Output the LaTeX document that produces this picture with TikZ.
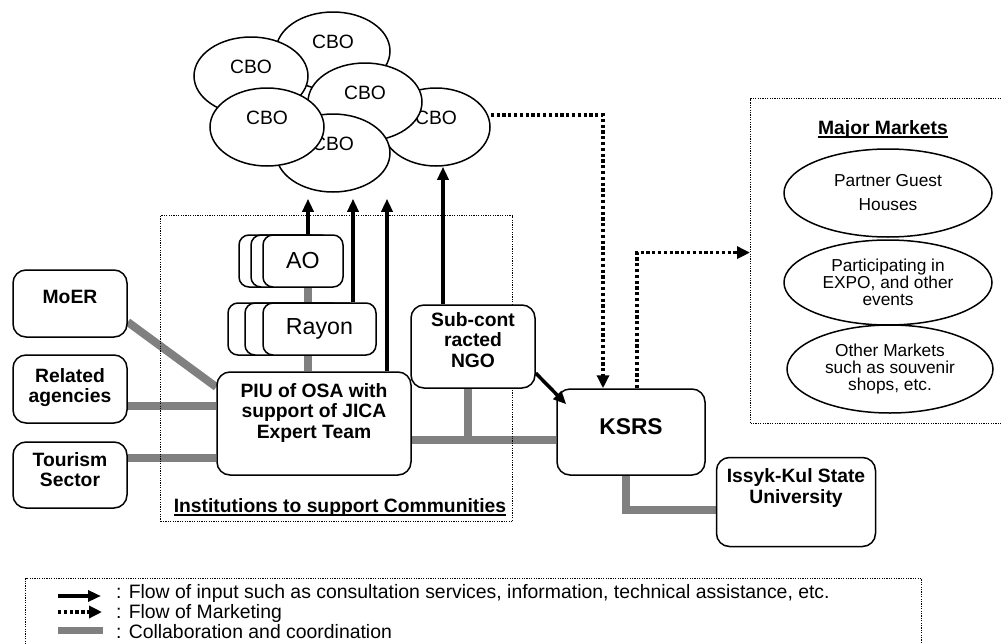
\documentclass[tikz,border=0pt]{standalone}
\usepackage{fontspec}
\setmainfont{Liberation Sans}
\usetikzlibrary{arrows.meta,shapes.geometric}

\definecolor{mygray}{RGB}{128,128,128}
\pgfdeclarelayer{background}
\pgfsetlayers{background,main}

\newcommand\ulhead[1]{\setbox0=\hbox{#1}\rlap{\rule[-4pt]{\wd0}{2pt}}\box0}

\begin{document}
\begin{tikzpicture}[x=1pt,y=-1pt,
  box/.style   ={draw,line width=1.5pt,rounded corners=13pt,fill=white,inner sep=0pt},
  txt/.style   ={font=\bfseries\fontsize{19.3}{20.5}\selectfont,align=center,inner sep=0pt},
  cbo/.style   ={draw,ellipse,line width=1.5pt,fill=white,minimum width=114pt,minimum height=78pt,
                 inner sep=0pt,text depth=18pt,font=\fontsize{19.3}{21}\selectfont},
  stack/.style ={draw,line width=1.5pt,rounded corners=10pt,fill=white,minimum height=52pt,
                 inner sep=0pt,font=\fontsize{23.2}{25}\selectfont},
  market/.style={draw,ellipse,line width=1.5pt,inner sep=0pt,align=center,
                 font=\fontsize{17.3}{17}\selectfont},
  frame/.style ={draw,line width=1.2pt,dash pattern=on 1.2pt off 1.2pt,inner sep=0pt},
  head/.style  ={font=\bfseries\fontsize{19.3}{21}\selectfont,inner sep=0pt,anchor=base},
  legtxt/.style={font=\fontsize{19.4}{20}\selectfont,inner sep=0pt,anchor=base west},
  flow/.style  ={line width=3.5pt,-{Triangle[length=13pt,width=11pt]}},
  mkt/.style   ={line width=3.3pt,dash pattern=on 3.3pt off 2.5pt,-{Triangle[length=13pt,width=12pt]}},
  collab/.style={mygray,line width=8pt}]
 \useasboundingbox (0,0) rectangle (1002,643);

 % community based organisations
 \node[cbo]                    (cbo1) at (333,51)  {CBO};
 \node[cbo,minimum width=108pt](cbo6) at (436,127) {CBO};
 \node[cbo]                    (cbo2) at (251,76)  {CBO};
 \node[cbo]                    (cbo3) at (365,102) {CBO};
 \node[cbo]                    (cbo5) at (333,153) {CBO};
 \node[cbo]                    (cbo4) at (267,127) {CBO};

 % institutions
 \node[frame,minimum width=352pt,minimum height=306pt,anchor=north west] (inst) at (160,215) {};
 \node[head] (insttitle) at (340,512) {\ulhead{Institutions to support Communities}};

 \node[stack,minimum width=80pt]  (ao3)    at (279,261)   {};
 \node[stack,minimum width=80pt]  (ao2)    at (291,261)   {};
 \node[stack,minimum width=80pt]  (ao)     at (303,261)   {AO};
 \node[stack,minimum width=113pt] (rayon3) at (284.5,329) {};
 \node[stack,minimum width=113pt] (rayon2) at (301.5,329) {};
 \node[stack,minimum width=113pt] (rayon)  at (319.5,329) {Rayon};

 \node[box,minimum width=194pt,minimum height=103pt,
       label={[txt,anchor=north,yshift=-12pt]north:PIU of OSA with\\support of JICA\\Expert Team}] (piu) at (314,423.5) {};
 \node[box,minimum width=124pt,minimum height=83pt,
       label={[txt,anchor=north,yshift=-8pt]north:Sub-cont\\racted\\NGO}] (ngo) at (473,346.5) {};

 % partners
 \node[box,minimum width=114pt,minimum height=67pt,
       label={[txt,anchor=north,yshift=-21pt]north:MoER}] (moer) at (70,303.5) {};
 \node[box,minimum width=114pt,minimum height=68pt,
       label={[txt,anchor=north,yshift=-14pt]north:Related\\agencies}] (rel) at (70,389) {};
 \node[box,minimum width=114pt,minimum height=66pt,
       label={[txt,anchor=north,yshift=-11pt]north:Tourism\\Sector}] (tour) at (70,475) {};
 \node[box,minimum width=148pt,minimum height=86pt,
       label={[txt,font=\bfseries\fontsize{22.8}{24}\selectfont,anchor=north,yshift=-30pt]north:KSRS}] (ksrs) at (631,432) {};
 \node[box,minimum width=159pt,minimum height=89pt,
       label={[txt,anchor=north,yshift=-12pt]north:Issyk-Kul State\\University}] (isu) at (796,502) {};

 % markets
 \node[frame,minimum width=258pt,minimum height=325pt,anchor=north west] (mkt) at (750,98) {};
 \node[head] (mkttitle) at (883,134) {\ulhead{Major Markets}};
 \node[market,minimum width=208pt,minimum height=88pt] (mk1) at (888,193)   {Partner Guest\\[7pt]Houses};
 \node[market,minimum width=208pt,minimum height=85pt] (mk2) at (888,282.5) {Participating in\\EXPO, and other\\events};
 \node[market,minimum width=206pt,minimum height=88pt] (mk3) at (890,369)   {Other Markets\\such as souvenir\\shops, etc.};

 % collaboration
 \coordinate (col) at (308,0);
 \coordinate (bus) at ([yshift=-16.5pt]piu.east);
 \begin{pgfonlayer}{background}
  \fill[white] (0,0) rectangle (1002,643);
  \draw[collab] (ao.south -| col)    -- (rayon.north -| col);
  \draw[collab] (rayon.south -| col) -- (piu.north -| col);
  \draw[collab] ([yshift=-18.5pt]moer.east) -- ([yshift=36.5pt]piu.west);
  \draw[collab] ([yshift=-17pt]rel.east)    -- ([yshift=-17pt]rel.east -| piu.west);
  \draw[collab] ([yshift=17pt]tour.east)    -- ([yshift=17pt]tour.east -| piu.west);
  \draw[collab] (bus) -- (bus -| ksrs.west);
  \draw[collab] ([xshift=-5pt]ngo.south) -- ([xshift=-5pt]ngo.south |- bus);
  \draw[collab] ([xshift=-5pt]ksrs.south) |- ([yshift=-7.5pt]isu.west);
 \end{pgfonlayer}

 % inputs
 \draw[flow,shorten >=6pt] (ao.north -| col) -- (cbo5.south -| col);
 \draw[flow,shorten >=6pt] ([xshift=33.5pt]rayon.north) -- ([xshift=33.5pt]rayon.north |- cbo5.south);
 \draw[flow,shorten >=6pt] ([xshift=73pt]piu.north)     -- ([xshift=73pt]piu.north |- cbo5.south);
 \draw[flow] ([xshift=-30pt]ngo.north) -- ([xshift=-30pt]ngo.north |- cbo6.south);
 \draw[flow] (ngo.-23) -- ([xshift=10pt,yshift=-16pt]ksrs.north west);

 % marketing
 \draw[mkt] ([yshift=12pt]cbo6.east) -| ([xshift=-28pt]ksrs.north);
 \draw[mkt] ([xshift=6pt]ksrs.north) |- ([yshift=8.5pt]mkt.west);

 % legend
 \node[frame,minimum width=896pt,minimum height=90pt,anchor=north west] (legend) at (25,578) {};
 \coordinate (l1a) at (58,596);  \coordinate (l1b) at (101,596);
 \coordinate (l2a) at (58,612);  \coordinate (l2b) at (102,612);
 \coordinate (l3a) at (58,630);  \coordinate (l3b) at (103,630);
 \draw[flow]                (l1a) -- (l1b);
 \draw[mkt]                 (l2a) -- (l2b);
 \draw[collab,line width=7pt] (l3a) -- (l3b);
 \node[legtxt] (leg1) at (116,598) {: Flow of input such as consultation services, information, technical assistance, etc.};
 \node[legtxt] (leg2) at (116,618) {: Flow of Marketing};
 \node[legtxt] (leg3) at (116,638) {: Collaboration and coordination};
\end{tikzpicture}
\end{document}
